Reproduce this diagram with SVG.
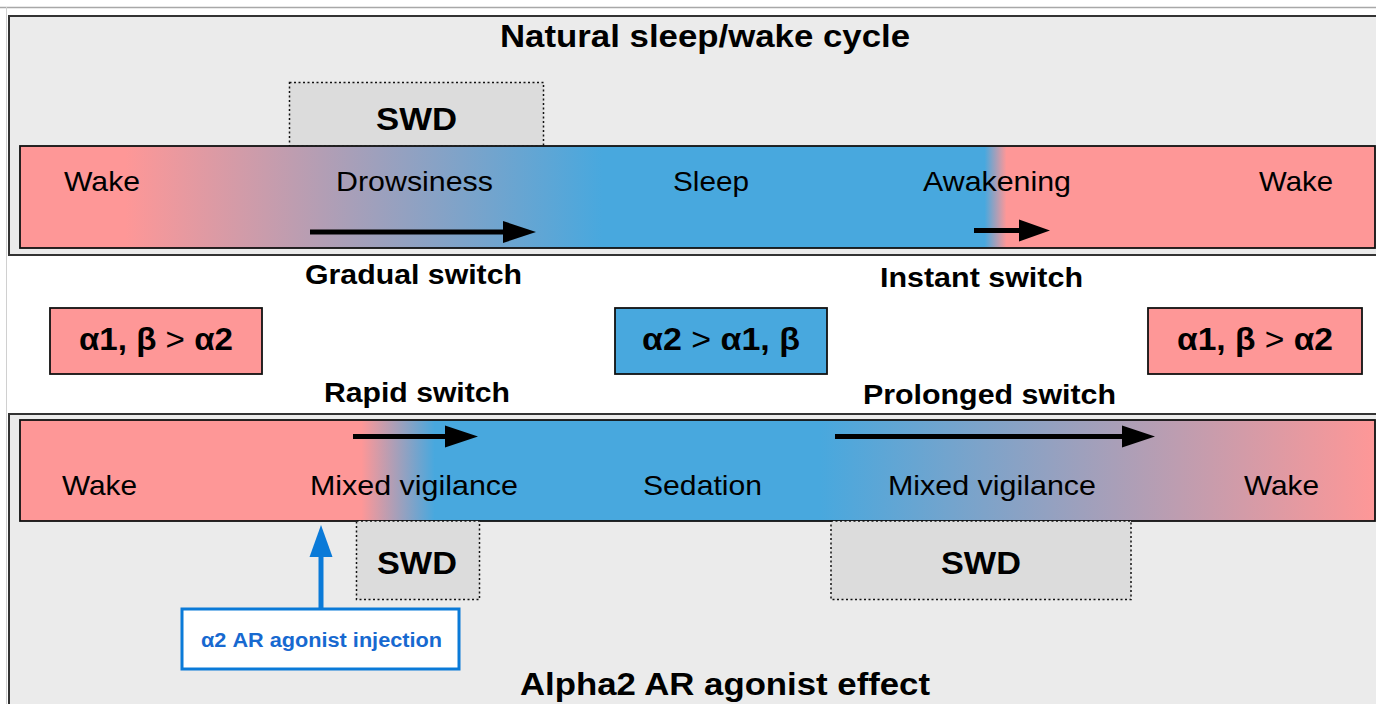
<svg xmlns="http://www.w3.org/2000/svg" width="1376" height="704" viewBox="0 0 1376 704">
<style>
  text { font-family: "Liberation Sans", Arial, sans-serif; fill: #000; text-anchor: middle; }
  .title { font-size: 31px; font-weight: bold; }
  .lbl { font-size: 28px; }
  .bold { font-size: 28px; font-weight: bold; }
  .swd { font-size: 32px; font-weight: bold; }
  .box { font-size: 31px; font-weight: bold; }
  .panel { fill: #ebebeb; stroke: #333; stroke-width: 2; }
  .band { stroke: #111; stroke-width: 1.8; }
  .swdbox { fill: #dcdcdc; stroke: #111; stroke-width: 1.5; stroke-dasharray: 2 2.5; }
  .pink { fill: #fe9797; stroke: #111; stroke-width: 1.8; }
  .blue { fill: #48a8de; stroke: #111; stroke-width: 1.8; }
  .arr { stroke: #000; stroke-width: 5; fill: none; }
  .head { fill: #000; }
</style>
<defs>
  <linearGradient id="gTop" gradientUnits="userSpaceOnUse" x1="20" y1="0" x2="1375" y2="0">
    <stop offset="0" stop-color="#fe9797"/>
    <stop offset="0.078" stop-color="#fe9797"/>
    <stop offset="0.43" stop-color="#48a8de"/>
    <stop offset="0.712" stop-color="#48a8de"/>
    <stop offset="0.728" stop-color="#fe9797"/>
    <stop offset="1" stop-color="#fe9797"/>
  </linearGradient>
  <linearGradient id="gBot" gradientUnits="userSpaceOnUse" x1="20" y1="0" x2="1375" y2="0">
    <stop offset="0" stop-color="#fe9797"/>
    <stop offset="0.252" stop-color="#fe9797"/>
    <stop offset="0.306" stop-color="#48a8de"/>
    <stop offset="0.59" stop-color="#48a8de"/>
    <stop offset="1" stop-color="#fe9797"/>
  </linearGradient>
</defs>

<rect x="0" y="0" width="1376" height="704" fill="#fff"/>
<line x1="0" y1="7.5" x2="1376" y2="7.5" stroke="#a8a8a8" stroke-width="1.5"/>
<line x1="6.5" y1="7" x2="6.5" y2="704" stroke="#d0d0d0" stroke-width="1"/>

<g id="panel-natural">
  <rect class="panel" x="9" y="16" width="1380" height="239"/>
  <text class="title" x="705" y="47" textLength="410" lengthAdjust="spacingAndGlyphs">Natural sleep/wake cycle</text>
</g>

<g id="swd-top">
  <rect class="swdbox" x="289.5" y="82.5" width="254" height="64"/>
  <text class="swd" x="416.5" y="130" textLength="81" lengthAdjust="spacingAndGlyphs">SWD</text>
</g>

<g id="band-natural">
  <rect class="band" x="20" y="146" width="1355" height="102" fill="url(#gTop)"/>
  <text class="lbl" x="102" y="191" textLength="76" lengthAdjust="spacingAndGlyphs">Wake</text>
  <text class="lbl" x="414.5" y="191" textLength="157" lengthAdjust="spacingAndGlyphs">Drowsiness</text>
  <text class="lbl" x="711" y="191" textLength="76" lengthAdjust="spacingAndGlyphs">Sleep</text>
  <text class="lbl" x="997" y="191" textLength="148" lengthAdjust="spacingAndGlyphs">Awakening</text>
  <text class="lbl" x="1296" y="191" textLength="74" lengthAdjust="spacingAndGlyphs">Wake</text>
</g>

<g id="label-gradual">
  <text class="bold" x="413.5" y="284" textLength="217" lengthAdjust="spacingAndGlyphs">Gradual switch</text>
</g>
<g id="label-instant">
  <text class="bold" x="981.5" y="287" textLength="203" lengthAdjust="spacingAndGlyphs">Instant switch</text>
</g>

<g id="box-left">
  <rect class="pink" x="50" y="308" width="212" height="66"/>
  <text class="box" x="156" y="350" textLength="154" lengthAdjust="spacingAndGlyphs">α1, β <tspan font-weight="normal">&gt;</tspan> α2</text>
</g>
<g id="box-middle">
  <rect class="blue" x="615" y="308" width="212" height="66"/>
  <text class="box" x="721" y="350" textLength="158" lengthAdjust="spacingAndGlyphs">α2 <tspan font-weight="normal">&gt;</tspan> α1, β</text>
</g>
<g id="box-right">
  <rect class="pink" x="1148" y="308" width="214" height="66"/>
  <text class="box" x="1255" y="350" textLength="156" lengthAdjust="spacingAndGlyphs">α1, β <tspan font-weight="normal">&gt;</tspan> α2</text>
</g>

<g id="label-rapid">
  <text class="bold" x="417" y="402" textLength="186" lengthAdjust="spacingAndGlyphs">Rapid switch</text>
</g>
<g id="label-prolonged">
  <text class="bold" x="989.5" y="404" textLength="253" lengthAdjust="spacingAndGlyphs">Prolonged switch</text>
</g>

<g id="panel-agonist">
  <rect class="panel" x="9" y="414" width="1380" height="300"/>
  <text class="title" x="725" y="695" font-size="32" textLength="410" lengthAdjust="spacingAndGlyphs">Alpha2 AR agonist effect</text>
</g>

<g id="band-agonist">
  <rect class="band" x="20" y="420" width="1355" height="101" fill="url(#gBot)"/>
  <text class="lbl" x="99.5" y="495" textLength="75" lengthAdjust="spacingAndGlyphs">Wake</text>
  <text class="lbl" x="414" y="495" textLength="208" lengthAdjust="spacingAndGlyphs">Mixed vigilance</text>
  <text class="lbl" x="702.5" y="495" textLength="119" lengthAdjust="spacingAndGlyphs">Sedation</text>
  <text class="lbl" x="992" y="495" textLength="208" lengthAdjust="spacingAndGlyphs">Mixed vigilance</text>
  <text class="lbl" x="1281.5" y="495" textLength="75" lengthAdjust="spacingAndGlyphs">Wake</text>
</g>

<g id="swd-bottom-left">
  <rect class="swdbox" x="356.5" y="521" width="123" height="78.5"/>
  <text class="swd" x="417" y="574" textLength="80" lengthAdjust="spacingAndGlyphs">SWD</text>
</g>
<g id="swd-bottom-right">
  <rect class="swdbox" x="831" y="521" width="300" height="78.5"/>
  <text class="swd" x="981" y="574" textLength="80" lengthAdjust="spacingAndGlyphs">SWD</text>
</g>

<g id="injection">
  <rect x="182" y="609" width="277" height="60" fill="#fff" stroke="#0a7ad8" stroke-width="3"/>
  <text x="321.5" y="647" font-size="20" font-weight="bold" fill="#1769d0" style="fill:#1769d0" textLength="241" lengthAdjust="spacingAndGlyphs">α2 AR agonist injection</text>
</g>

<g id="connectors">
  <line class="arr" x1="310" y1="232" x2="506" y2="232"/>
  <polygon class="head" points="503,221 536,232 503,243"/>
  <line class="arr" x1="974" y1="230.5" x2="1022" y2="230.5"/>
  <polygon class="head" points="1019,219.5 1050,230.5 1019,241.5"/>
  <line class="arr" x1="353" y1="436.5" x2="448" y2="436.5"/>
  <polygon class="head" points="445,425.5 478,436.5 445,447.5"/>
  <line class="arr" x1="835" y1="436.5" x2="1125" y2="436.5"/>
  <polygon class="head" points="1122,425.5 1155,436.5 1122,447.5"/>
  <line x1="321" y1="608" x2="321" y2="553" stroke="#0a7ad8" stroke-width="5"/>
  <polygon points="309.5,557 321,525 332.5,557" fill="#0a7ad8"/>
</g>
</svg>
